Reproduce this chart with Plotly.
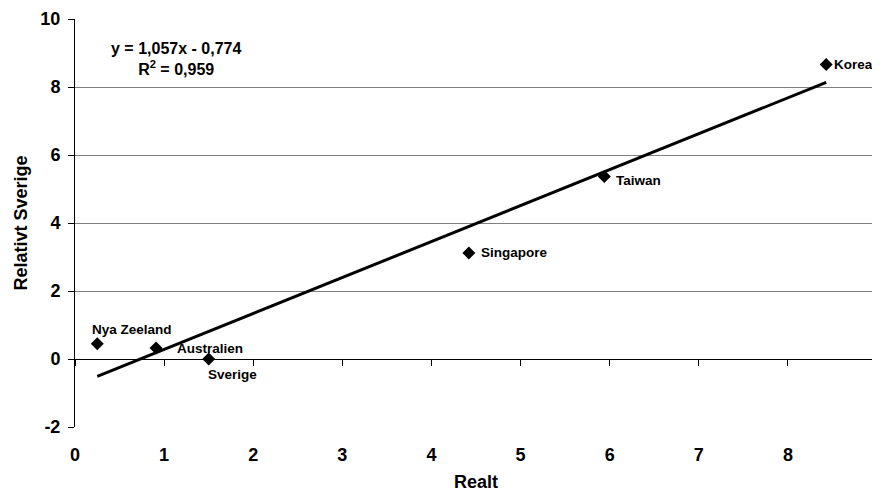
import plotly.graph_objects as go

countries = ["Nya Zeeland", "Australien", "Sverige", "Singapore", "Taiwan", "Korea"]
realt = [0.25, 0.91, 1.50, 4.42, 5.94, 8.43]
relativt = [0.45, 0.32, 0.00, 3.12, 5.37, 8.66]
slope = 1.057
intercept = -0.774
r2 = 0.959
x_ticks = [0, 1, 2, 3, 4, 5, 6, 7, 8, 9]
y_ticks = [-2, 0, 2, 4, 6, 8, 10]

# label offsets in pixels (xshift, yshift)
label_shift = {
    "Nya Zeeland": (-7, 14),
    "Australien": (19, 0),
    "Sverige": (-3, -15),
    "Singapore": (10, 0),
    "Taiwan": (10, -4),
    "Korea": (6, 0),
}

FONT = "Liberation Sans, Arial, sans-serif"

x_line = [min(realt), max(realt)]
y_line = [slope * v + intercept for v in x_line]

fig = go.Figure()
fig.add_trace(go.Scatter(
    x=x_line, y=y_line, mode="lines",
    line=dict(color="black", width=3),
    xaxis="x2", showlegend=False, hoverinfo="skip"))
fig.add_trace(go.Scatter(
    x=realt, y=relativt, mode="markers",
    marker=dict(symbol="diamond", size=10, color="black"),
    showlegend=False))

annotations = []
for c, xv, yv in zip(countries, realt, relativt):
    dx, dy = label_shift[c]
    annotations.append(dict(
        x=xv, y=yv, xref="x", yref="y", text="<b>%s</b>" % c,
        showarrow=False, xanchor="left", yanchor="middle",
        xshift=dx, yshift=dy,
        font=dict(family=FONT, size=13.5, color="black")))

eq_text = ("<b>y = %s</b><br><b>R<sup>2</sup> = %s</b>" % (
    ("%.3fx - %.3f" % (slope, -intercept)).replace(".", ","),
    ("%.3f" % r2).replace(".", ",")))
annotations.append(dict(
    x=(176 - 75) / 802, y=(427 - 59) / 408, xref="paper", yref="paper", text=eq_text,
    showarrow=False, align="center", xanchor="center", yanchor="middle",
    font=dict(family=FONT, size=16, color="black")))

# the page body has an 8px margin, so the figure is 8px smaller on each side
fig.update_layout(
    width=872, height=484,
    margin=dict(l=67, r=3, t=11, b=65, autoexpand=False),
    paper_bgcolor="white", plot_bgcolor="white",
    font=dict(family=FONT, color="black"),
    xaxis=dict(
        range=[0, 9], tickvals=x_ticks, ticktext=["<b>%d</b>" % v for v in x_ticks],
        tickfont=dict(size=18, family=FONT), ticks="", showgrid=False,
        zeroline=False, showline=False, ticklabelstandoff=15, automargin=False,
        ticklabeloverflow="allow",
        title=dict(text="<b>Realt</b>", font=dict(size=18, family=FONT), standoff=13),
    ),
    xaxis2=dict(
        range=[0, 9], overlaying="x", anchor="free", position=1/6,
        side="bottom", tickvals=x_ticks, showticklabels=False,
        ticks="outside", ticklen=6, tickcolor="black", tickwidth=1,
        showline=True, linecolor="black", linewidth=1, showgrid=False, zeroline=False,
        automargin=False,
    ),
    yaxis=dict(
        range=[-2, 10], tickvals=y_ticks, ticktext=["<b>%d</b>" % v for v in y_ticks],
        tickfont=dict(size=18, family=FONT), ticks="outside", ticklen=6,
        tickcolor="black", showline=True, linecolor="black", linewidth=1,
        showgrid=True, gridcolor="#808080", gridwidth=1, zeroline=False,
        ticklabelstandoff=4, automargin=False, ticklabeloverflow="allow",
        title=dict(text="<b>Relativt Sverige</b>", font=dict(size=18, family=FONT), standoff=8),
    ),
    shapes=[dict(type="line", xref="x", yref="paper", x0=9, x1=9, y0=0, y1=1,
                 line=dict(color="#808080", width=1))],
    annotations=annotations,
)

fig.write_html("out.html")
